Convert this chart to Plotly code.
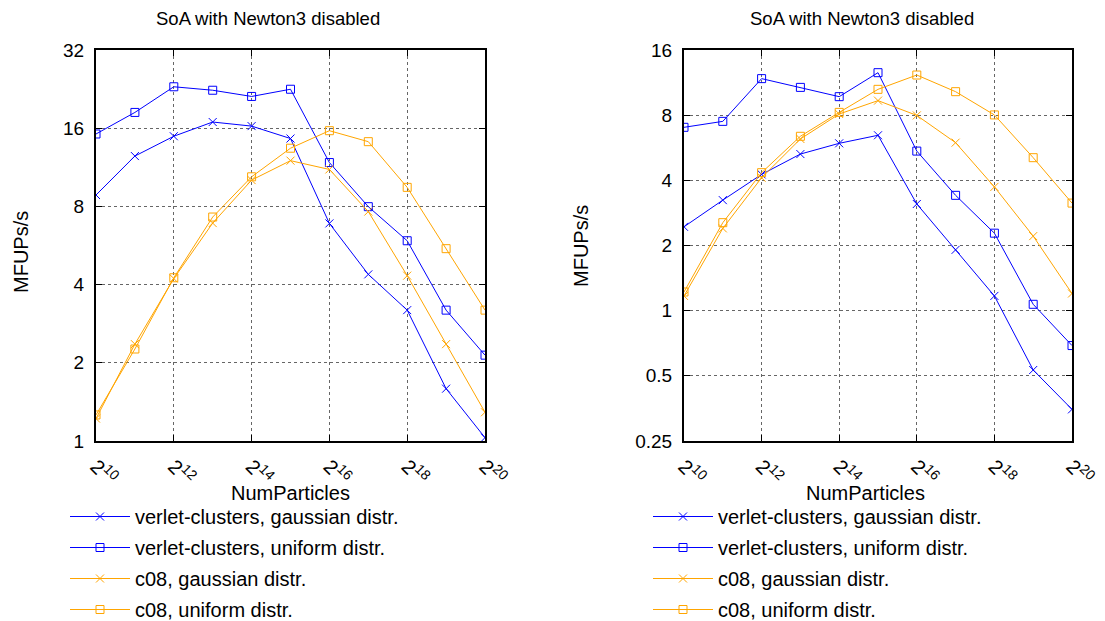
import plotly.graph_objects as go
import math

x_exp = [10, 11, 12, 13, 14, 15, 16, 17, 18, 19, 20]

# Left panel values (MFUPs/s)
left_vc_gauss = [8.85, 12.5, 14.9, 16.9, 16.3, 14.6, 6.88, 4.38, 3.19, 1.59, 1.03]
left_vc_unif = [15.2, 18.4, 23.1, 22.4, 21.2, 22.6, 11.8, 7.98, 5.9, 3.19, 2.14]
left_c08_gauss = [1.22, 2.36, 4.22, 6.9, 10.1, 12.0, 11.1, 7.64, 4.33, 2.36, 1.29]
left_c08_unif = [1.26, 2.26, 4.25, 7.28, 10.4, 13.4, 15.65, 14.2, 9.47, 5.5, 3.19]

# Right panel values (MFUPs/s)
right_vc_gauss = [2.44, 3.24, 4.26, 5.29, 5.93, 6.46, 3.11, 1.91, 1.17, 0.532, 0.35]
right_vc_unif = [7.03, 7.49, 11.8, 10.75, 9.74, 12.57, 5.46, 3.41, 2.28, 1.07, 0.69]
right_c08_gauss = [1.17, 2.4, 4.11, 6.21, 8.1, 9.34, 7.98, 5.97, 3.73, 2.21, 1.2]
right_c08_unif = [1.22, 2.55, 4.34, 6.39, 8.24, 10.53, 12.26, 10.27, 8.02, 5.09, 3.14]

series_names = ["verlet-clusters, gaussian distr.", "verlet-clusters, uniform distr.",
                "c08, gaussian distr.", "c08, uniform distr."]
series_colors = ["#0000ff", "#0000ff", "#ffa500", "#ffa500"]
series_symbols = ["x-thin-open", "square-open", "x-thin-open", "square-open"]

x_tickvals = [10, 12, 14, 16, 18, 20]
x_ticktext = ["2<sup>10</sup>", "2<sup>12</sup>", "2<sup>14</sup>", "2<sup>16</sup>",
              "2<sup>18</sup>", "2<sup>20</sup>"]
left_yticks = [1, 2, 4, 8, 16, 32]
right_yticks = [0.25, 0.5, 1, 2, 4, 8, 16]
right_yticktext = ["0.25", "0.5", "1", "2", "4", "8", "16"]

title_text = "SoA with Newton3 disabled"
x_title = "NumParticles"
y_title = "MFUPs/s"

FONT = "Liberation Sans, Arial, sans-serif"
W, H = 1105, 621

fig = go.Figure()

left_data = [left_vc_gauss, left_vc_unif, left_c08_gauss, left_c08_unif]
right_data = [right_vc_gauss, right_vc_unif, right_c08_gauss, right_c08_unif]

for i, ys in enumerate(left_data):
    fig.add_trace(go.Scatter(
        x=x_exp, y=ys, mode="lines+markers", name=series_names[i],
        line=dict(color=series_colors[i], width=1),
        marker=dict(symbol=series_symbols[i], size=8, color=series_colors[i],
                    line=dict(color=series_colors[i], width=1)),
        xaxis="x", yaxis="y", legend="legend", legendgroup="L%d" % i,
    ))
for i, ys in enumerate(right_data):
    fig.add_trace(go.Scatter(
        x=x_exp, y=ys, mode="lines+markers", name=series_names[i],
        line=dict(color=series_colors[i], width=1),
        marker=dict(symbol=series_symbols[i], size=8, color=series_colors[i],
                    line=dict(color=series_colors[i], width=1)),
        xaxis="x2", yaxis="y2", legend="legend2", legendgroup="R%d" % i,
    ))

def px_x(p):
    return p / W

def px_y(p):
    return 1 - p / H

ydom = [px_y(441), px_y(50)]

common_x = dict(
    range=[10, 20], tickvals=x_tickvals, ticktext=x_ticktext, tickangle=45,
    ticks="inside", ticklen=6, tickcolor="black", mirror="allticks",
    showline=True, linecolor="black", linewidth=2, automargin=False,
    showgrid=True, gridcolor="#666666", griddash="dot", gridwidth=1,
    zeroline=False, tickfont=dict(size=20, color="black", family=FONT),
    ticklabelstandoff=4,
)
common_y = dict(
    type="log", ticks="inside", ticklen=6, tickcolor="black", mirror="allticks",
    showline=True, linecolor="black", linewidth=2, automargin=False,
    showgrid=True, gridcolor="#666666", griddash="dot", gridwidth=1,
    zeroline=False, tickfont=dict(size=19, color="black", family=FONT),
    ticklabelstandoff=6,
)

xa1 = dict(common_x); xa1.update(domain=[px_x(96), px_x(485)], anchor="y")
xa2 = dict(common_x); xa2.update(domain=[px_x(684), px_x(1072)], anchor="y2")
ya1 = dict(common_y); ya1.update(domain=ydom, anchor="x",
                                 range=[0, math.log10(32)], tickvals=left_yticks,
                                 ticktext=[str(v) for v in left_yticks])
ya2 = dict(common_y); ya2.update(domain=ydom, anchor="x2",
                                 range=[math.log10(0.25), math.log10(16)],
                                 tickvals=right_yticks, ticktext=right_yticktext)

legend_common = dict(
    font=dict(size=20, color="black", family=FONT),
    bgcolor="rgba(0,0,0,0)", borderwidth=0, xanchor="left", yanchor="top",
    tracegroupgap=2, itemwidth=60, orientation="v",
)
lg1 = dict(legend_common); lg1.update(x=px_x(65), y=px_y(497))
lg2 = dict(legend_common); lg2.update(x=px_x(648), y=px_y(497))

def ann(text, x, y, size, angle=0):
    return dict(text=text, x=px_x(x), y=px_y(y), xref="paper", yref="paper",
                xanchor="center", yanchor="middle", showarrow=False,
                textangle=angle, font=dict(size=size, color="black", family=FONT))

annotations = [
    ann(title_text, 268, 18, 18.5),
    ann(title_text, 862, 18, 18.5),
    ann(x_title, 290, 493, 20),
    ann(x_title, 865, 493, 20),
    ann(y_title, 21, 252, 20, -90),
    ann(y_title, 581, 246, 20, -90),
]

fig.update_layout(
    width=W, height=H, margin=dict(l=0, r=0, t=0, b=0, autoexpand=False),
    paper_bgcolor="white", plot_bgcolor="white",
    font=dict(family=FONT, color="black"),
    xaxis=xa1, xaxis2=xa2, yaxis=ya1, yaxis2=ya2,
    legend=lg1, legend2=lg2,
    annotations=annotations, showlegend=True,
)

fig.write_html("out.html")
